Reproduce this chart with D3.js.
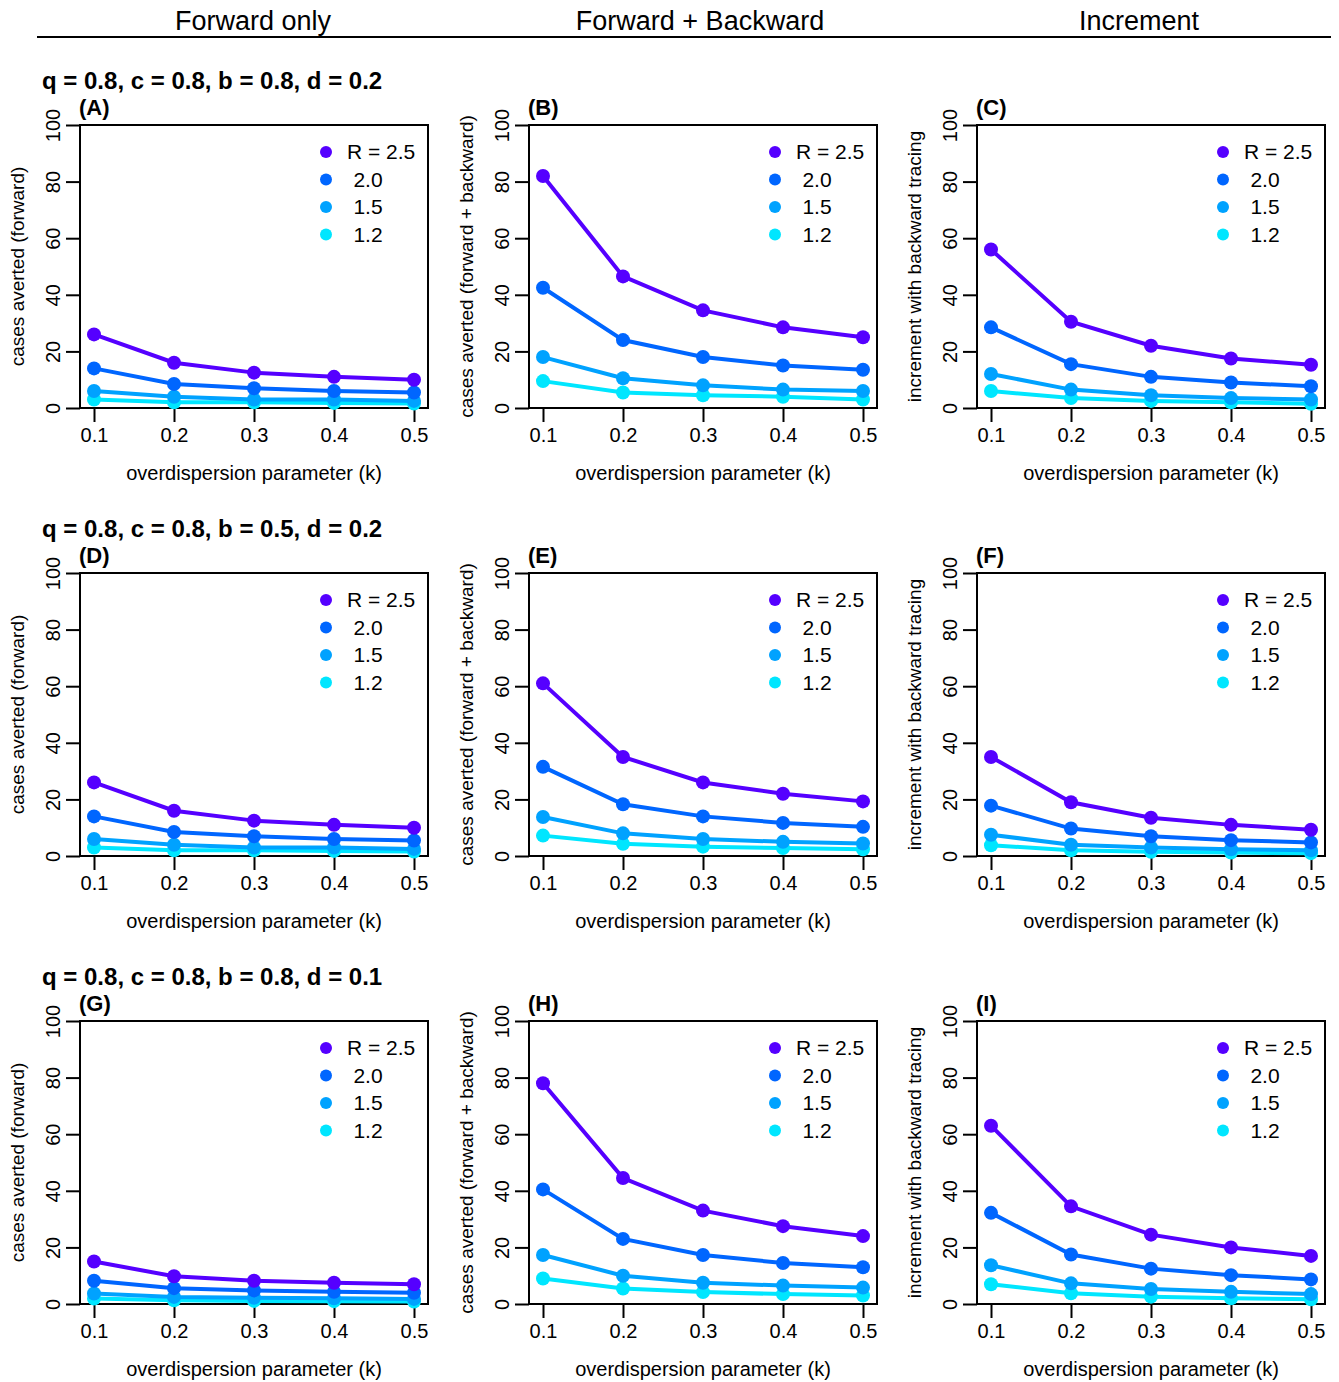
<!DOCTYPE html>
<html><head><meta charset="utf-8">
<script src="https://cdn.jsdelivr.net/npm/d3@7"></script>
<style>body{margin:0;background:#fff}text{font-family:"Liberation Sans",Arial,sans-serif}</style>
</head><body><svg id="c" width="1339" height="1382"></svg>
<script>
const kValues = [0.1, 0.2, 0.3, 0.4, 0.5];
const rLabels = ["R = 2.5", "2.0", "1.5", "1.2"];
const colors = ["#5500ff", "#0066ff", "#00a2ff", "#00e6ff"];
const colTitles = ["Forward only", "Forward + Backward", "Increment"];
const rowTitles = ["q = 0.8, c = 0.8, b = 0.8, d = 0.2", "q = 0.8, c = 0.8, b = 0.5, d = 0.2", "q = 0.8, c = 0.8, b = 0.8, d = 0.1"];
const yLabels = ["cases averted (forward)", "cases averted (forward + backward)", "increment with backward tracing"];
const panelLetters = ["A","B","C","D","E","F","G","H","I"];

const panelA = [[26,16,12.5,11,10],[14,8.5,7,6,5.5],[6,4,3,3,2.5],[3,2,2,1.8,1.6]];
const panelB = [[82,46.5,34.5,28.5,25],[42.5,24,18,15,13.5],[18,10.5,8,6.5,6],[9.5,5.5,4.5,4,3]];
const panelC = [[56,30.5,22,17.5,15.3],[28.5,15.5,11,9,7.7],[12,6.5,4.5,3.5,3],[6,3.5,2.5,2,1.5]];
const panelD = [[26,16,12.5,11,10],[14,8.5,7,6,5.5],[6,4,3,3,2.5],[3,2,2,1.8,1.6]];
const panelE = [[61,35,26,22,19.3],[31.5,18.3,14,11.7,10.3],[13.8,8,6,5,4.4],[7.2,4.3,3.3,2.8,2.4]];
const panelF = [[35,19,13.5,11,9.3],[17.8,9.7,7,5.6,4.8],[7.5,4,3,2.4,2],[3.8,2,1.5,1.2,1]];
const panelG = [[15,9.8,8.2,7.5,7],[8.2,5.6,4.8,4.3,4],[3.7,2.5,2.2,2,1.8],[1.9,1.3,1.1,1,0.9]];
const panelH = [[78,44.5,33,27.5,24],[40.5,23,17.3,14.5,13],[17.3,10,7.5,6.5,5.8],[9,5.5,4.2,3.5,3]];
const panelI = [[63,34.5,24.5,20,17],[32.2,17.5,12.5,10.2,8.7],[13.7,7.3,5.3,4.3,3.5],[7,3.8,2.6,2,1.7]];
const panels = [panelA,panelB,panelC,panelD,panelE,panelF,panelG,panelH,panelI];
const yTicks = [0, 20, 40, 60, 80, 100];

const svg = d3.select("#c");
const colX = [80, 529, 977], boxW = 348;
const rowY = [125, 573, 1021], boxH = 283;

colTitles.forEach((t,i) => svg.append("text").attr("x", [253,700,1139][i]).attr("y", 30)
  .attr("text-anchor","middle").attr("font-size", 27).text(t));
svg.append("line").attr("x1",37).attr("x2",1331).attr("y1",37).attr("y2",37).attr("stroke","#000").attr("stroke-width",2);

rowTitles.forEach((t,r) => svg.append("text").attr("x",42).attr("y", rowY[r]-36)
  .attr("font-size",24).attr("font-weight","bold").text(t));

panels.forEach((data, idx) => {
  const r = Math.floor(idx/3), c = idx%3;
  const g = svg.append("g").attr("transform", `translate(${colX[c]},${rowY[r]})`);
  const x = d3.scaleLinear().domain([0.1,0.5]).range([14, 334]);
  const y = d3.scaleLinear().domain([0,100]).range([boxH, 0]);

  g.append("rect").attr("width", boxW).attr("height", boxH).attr("fill","none").attr("stroke","#000").attr("stroke-width",2);
  const xa = g.append("g").attr("transform", `translate(0,${boxH})`)
    .call(d3.axisBottom(x).tickValues(kValues).tickFormat(d3.format(".1f")).tickSize(14).tickPadding(6));
  xa.selectAll("text").attr("font-size",20).attr("fill","#000");
  const ya = g.append("g").call(d3.axisLeft(y).tickValues(yTicks).tickSize(14));
  ya.selectAll("text").attr("font-size",20).attr("fill","#000").attr("text-anchor","middle")
    .attr("x",0).attr("y",0).attr("dy","0.35em").attr("transform","translate(-27,0) rotate(-90)");
  [xa, ya].forEach(a => { a.select(".domain").attr("stroke-width",2).attr("stroke","#000"); a.selectAll("line").attr("stroke-width",2).attr("stroke","#000"); });
  ya.select(".domain").attr("d", `M0,${y(0)}V${y(100)}`);
  xa.select(".domain").attr("d", `M${x(0.1)},0H${x(0.5)}`);

  g.append("text").attr("x", boxW/2).attr("y", boxH+72).attr("text-anchor","middle").attr("font-size",20)
    .text("overdispersion parameter (k)");
  g.append("text").attr("transform", `translate(-56,${boxH/2}) rotate(-90)`).attr("text-anchor","middle")
    .attr("font-size",19).text(yLabels[c]);
  g.append("text").attr("x",-1).attr("y",-10).attr("font-size",22).attr("font-weight","bold").text(`(${panelLetters[idx]})`);

  const line = d3.line().x((d,i)=>x(kValues[i])).y(d=>y(d));
  for (let si = data.length-1; si >= 0; si--) {
    const s = data[si];
    g.append("path").attr("d", line(s)).attr("fill","none").attr("stroke", colors[si]).attr("stroke-width",4);
    g.selectAll(null).data(s).enter().append("circle").attr("cx",(d,i)=>x(kValues[i])).attr("cy",d=>y(d))
      .attr("r",7).attr("fill", colors[si]);
  }

  rLabels.forEach((l,i) => {
    g.append("circle").attr("cx",246).attr("cy",27+i*27.5).attr("r",6).attr("fill",colors[i]);
    g.append("text").attr("x", i===0?267:288).attr("y",27+i*27.5).attr("dy","0.35em").attr("text-anchor", i===0?"start":"middle").attr("font-size",21).text(l);
  });
});
</script></body></html>
